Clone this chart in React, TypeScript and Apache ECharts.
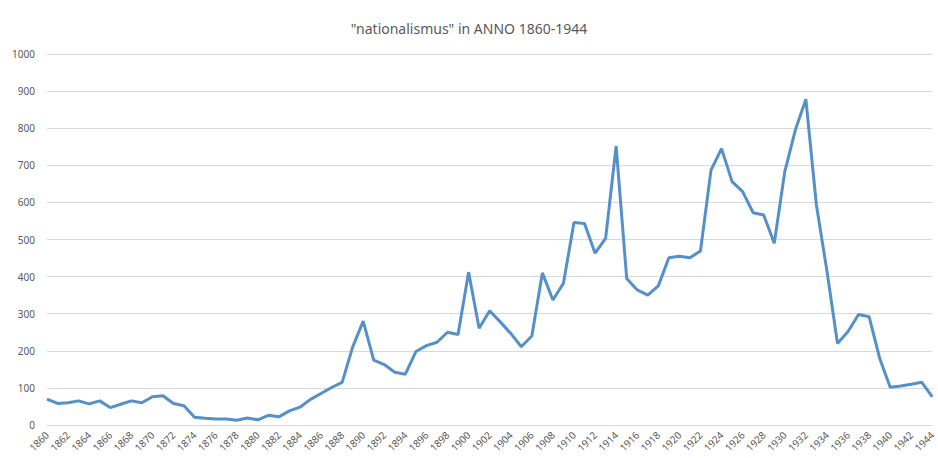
import React, { useEffect, useRef } from "react";
import * as echarts from "echarts";

const years: string[] = [];
for (let y = 1860; y <= 1944; y++) years.push(String(y));

const counts: number[] = [
  70, 58, 60, 65, 57, 65, 47, 56, 65, 60,
  76, 79, 58, 52, 21, 18, 16, 16, 13, 19,
  14, 26, 22, 38, 48, 69, 85, 101, 115, 210,
  280, 175, 163, 142, 137, 198, 214, 223, 250, 244,
  412, 261, 308, 278, 247, 211, 240, 410, 337, 382,
  546, 543, 463, 503, 752, 395, 364, 350, 375, 451,
  455, 451, 469, 687, 745, 656, 629, 572, 566, 490,
  683, 795, 878, 593, 415, 220, 252, 298, 292, 180,
  102, 105, 110, 115, 76,
];

const titleText = '"nationalismus" in ANNO 1860-1944';

export default function App() {
  const ref = useRef<HTMLDivElement>(null);
  useEffect(() => {
    if (!ref.current) return;
    const chart = echarts.init(ref.current, undefined, { renderer: "svg" });
    chart.setOption({
      animation: false,
      backgroundColor: "#ffffff",
      title: {
        text: titleText,
        left: "center",
        top: 16,
        textStyle: {
          fontFamily: "Noto Sans",
          fontSize: 14,
          fontWeight: "normal",
          color: "#595959",
        },
      },
      grid: { left: 47, right: 2, top: 54, bottom: 33, containLabel: false },
      xAxis: {
        type: "category",
        data: years,
        boundaryGap: false,
        axisLine: { lineStyle: { color: "#d9d9d9" } },
        axisTick: { show: false },
        axisLabel: {
          interval: 1,
          rotate: 45,
          margin: 8,
          fontFamily: "Noto Sans",
          fontSize: 10,
          color: "#595959",
        },
      },
      yAxis: {
        type: "value",
        min: 0,
        max: 1000,
        interval: 100,
        axisLine: { show: false },
        axisTick: { show: false },
        splitLine: { lineStyle: { color: "#d9d9d9", width: 1 } },
        axisLabel: {
          margin: 12,
          fontFamily: "Noto Sans",
          fontSize: 10,
          color: "#595959",
          formatter: (v: number) => String(v),
        },
      },
      series: [
        {
          type: "line",
          data: counts,
          showSymbol: false,
          symbol: "none",
          lineStyle: { color: "#5590c8", width: 3 },
        },
      ],
    });
    return () => chart.dispose();
  }, []);
  return (
    <div
      ref={ref}
      style={{ position: "fixed", left: 0, top: 0, width: 938, height: 458 }}
    />
  );
}
